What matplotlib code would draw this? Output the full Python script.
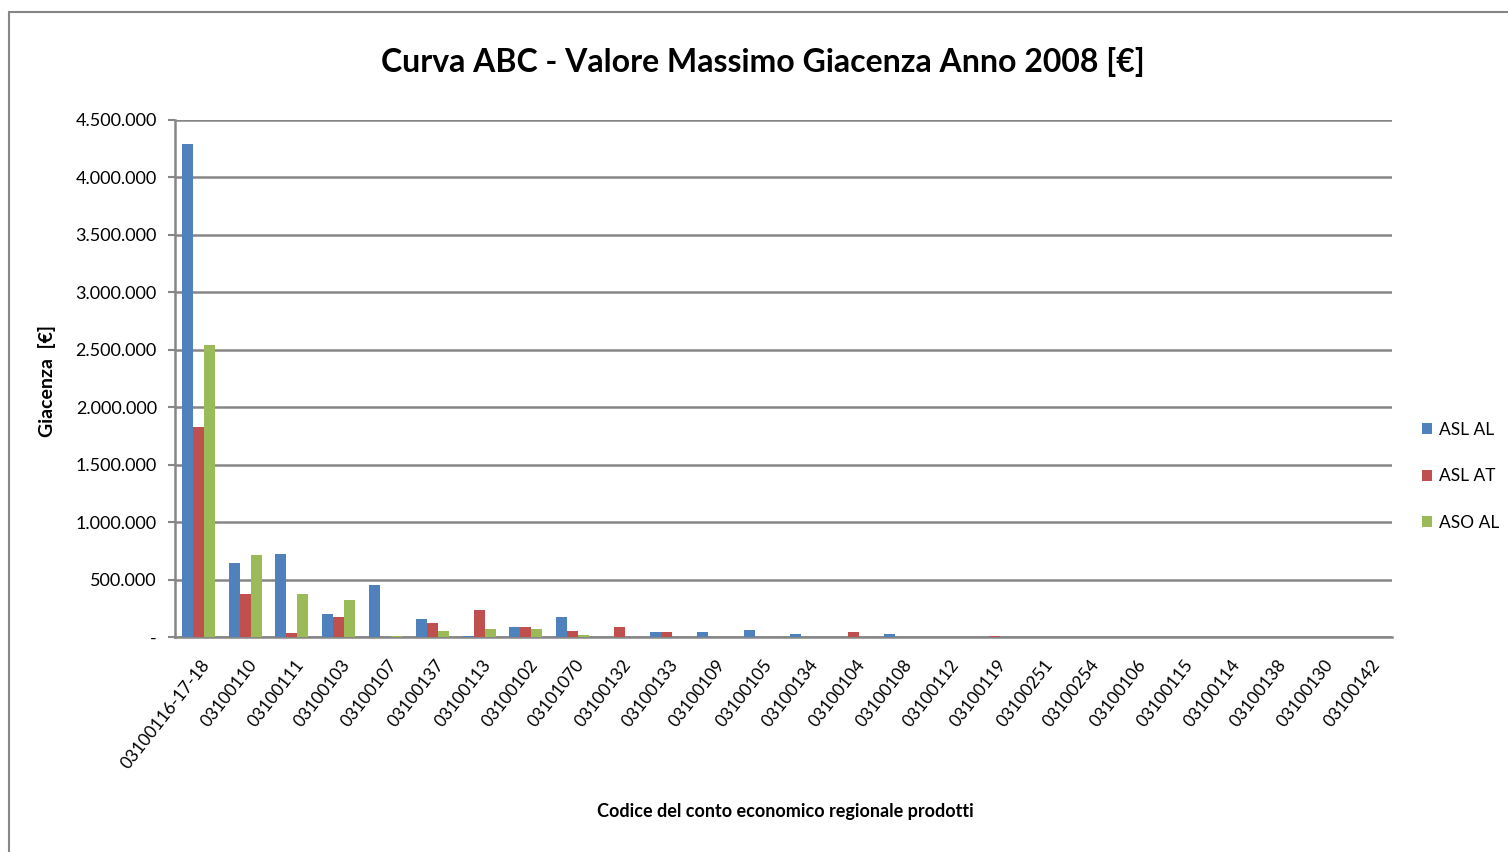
import matplotlib.pyplot as plt
import numpy as np
from matplotlib.patches import Rectangle
from matplotlib.ticker import FuncFormatter

plt.rcParams['font.family'] = ['Lato', 'DejaVu Sans']

codici = ['03100116-17-18', '03100110', '03100111', '03100103', '03100107',
          '03100137', '03100113', '03100102', '03101070', '03100132',
          '03100133', '03100109', '03100105', '03100134', '03100104',
          '03100108', '03100112', '03100119', '03100251', '03100254',
          '03100106', '03100115', '03100114', '03100138', '03100130',
          '03100142']

asl_al = [4290000, 644000, 722000, 200000, 453000, 157000, 5000, 87000, 174000, 0,
          40000, 40000, 58000, 23000, 0, 23000, 4000, 4000, 4000, 0,
          0, 4000, 4000, 0, 0, 0]
asl_at = [1830000, 374000, 35000, 174000, 0, 122000, 235000, 87000, 55000, 90000,
          40000, 3000, 3000, 3000, 40000, 3000, 4000, 5000, 0, 0,
          4000, 0, 0, 0, 4000, 0]
aso_al = [2540000, 714000, 374000, 322000, 8000, 52000, 70000, 70000, 22000, 3000,
          3000, 3000, 3000, 3000, 0, 3000, 4000, 0, 4000, 4000,
          0, 0, 0, 4000, 0, 0]

serie = [('ASL AL', asl_al, '#4F81BD'),
         ('ASL AT', asl_at, '#C0504D'),
         ('ASO AL', aso_al, '#9BBB59')]

fig = plt.figure(figsize=(15.08, 8.52), dpi=100)
ax = fig.add_axes([0.116, 0.2523, 0.807, 0.607])

x = np.arange(len(codici))
w = 0.235
for i, (nome, vals, col) in enumerate(serie):
    ax.bar(x + (i - 1) * w, vals, w, color=col, label=nome, zorder=3)

ax.set_xlim(-0.5, len(codici) - 0.5)
ax.set_ylim(0, 4500000)
ax.set_yticks(np.arange(0, 4500001, 500000))


def fmt(v, pos):
    if v == 0:
        return '-'
    return '{:,.0f}'.format(v).replace(',', '.')


ax.yaxis.set_major_formatter(FuncFormatter(fmt))
ax.grid(axis='y', color='#868686', linewidth=1.8, zorder=0)
for s in ['top', 'right']:
    ax.spines[s].set_visible(False)
ax.spines['left'].set_color('#868686')
ax.spines['left'].set_linewidth(1.8)
ax.spines['bottom'].set_color('#868686')
ax.spines['bottom'].set_linewidth(1.8)
ax.tick_params(axis='y', length=5, color='#868686', width=1.5, labelsize=13, pad=8)
ax.tick_params(axis='x', length=0, labelsize=12.5, pad=14)
ax.set_xticks(x + 0.05)
ax.set_xticklabels(codici, rotation=52, ha='right', rotation_mode='anchor')

fig.text(0.506, 0.927, 'Curva ABC - Valore Massimo Giacenza Anno 2008 [€]',
         ha='center', va='center', fontsize=23, fontweight='bold')
fig.text(0.521, 0.047, 'Codice del conto economico regionale prodotti',
         ha='center', va='center', fontsize=13, fontweight='bold')
fig.text(0.031, 0.553, 'Giacenza  [€]', rotation=90,
         ha='center', va='center', fontsize=14, fontweight='bold')

fig.legend(loc='center left', bbox_to_anchor=(0.943, 0.441), frameon=False,
           fontsize=12.5, handlelength=0.6, handleheight=0.6,
           handletextpad=0.35, labelspacing=1.75, borderpad=0, borderaxespad=0)

# bordo del grafico
fig.patches.append(Rectangle((0.006, -0.05), 1.1, 1.036, transform=fig.transFigure,
                             fill=False, edgecolor='#868686', linewidth=1.5))

fig.savefig('out.png', dpi=100)
